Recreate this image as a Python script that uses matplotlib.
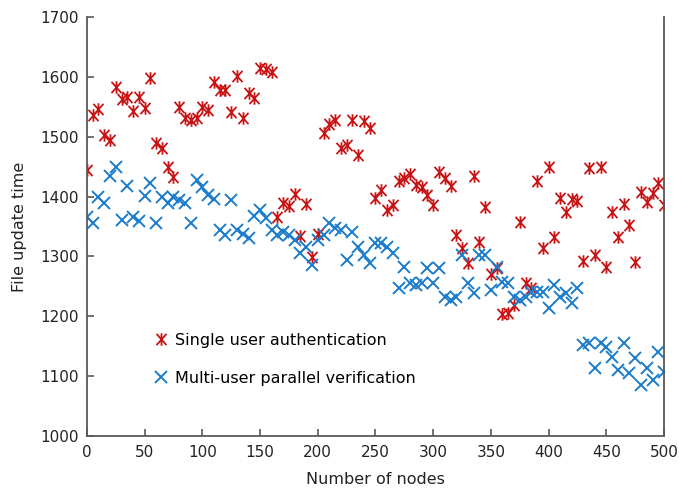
import matplotlib
matplotlib.use("Agg")
import matplotlib.pyplot as plt
from matplotlib.path import Path
import numpy as np

# datos
nodes = list(range(0, 501, 5))

single_auth = [
    1445, 1536, 1546, 1503, 1495, 1582, 1563, 1566, 1543, 1566,
    1548, 1598, 1490, 1481, 1450, 1433, 1549, 1531, 1528, 1531,
    1549, 1545, 1592, 1578, 1577, 1541, 1601, 1531, 1573, 1565,
    1615, 1613, 1608, 1366, 1389, 1384, 1404, 1334, 1387, 1299,
    1338, 1506, 1521, 1528, 1481, 1486, 1528, 1470, 1526, 1515,
    1398, 1411, 1377, 1386, 1426, 1431, 1438, 1420, 1416, 1403,
    1386, 1441, 1431, 1418, 1336, 1314, 1289, 1435, 1324, 1383,
    1271, 1281, 1204, 1206, 1219, 1358, 1256, 1248, 1426, 1314,
    1450, 1333, 1398, 1374, 1396, 1393, 1292, 1447, 1303, 1450,
    1283, 1374, 1333, 1388, 1353, 1291, 1408, 1391, 1406, 1423,
    1386,
]

multi_verif = [
    1366, 1356, 1400, 1390, 1435, 1450, 1361, 1418, 1366, 1360,
    1401, 1423, 1356, 1400, 1390, 1400, 1395, 1390, 1356, 1428,
    1416, 1403, 1396, 1344, 1336, 1395, 1344, 1338, 1331, 1368,
    1378, 1364, 1344, 1336, 1341, 1336, 1328, 1306, 1315, 1286,
    1328, 1336, 1356, 1348, 1344, 1294, 1341, 1316, 1303, 1289,
    1323, 1323, 1316, 1306, 1248, 1283, 1256, 1253, 1256, 1281,
    1256, 1281, 1232, 1227, 1232, 1303, 1256, 1239, 1303, 1303,
    1244, 1283, 1258, 1256, 1232, 1227, 1232, 1241, 1241, 1241,
    1214, 1253, 1232, 1239, 1222, 1248, 1152, 1155, 1114, 1155,
    1149, 1132, 1111, 1156, 1106, 1131, 1086, 1114, 1094, 1141,
    1107,
]

# marcador asterisco: x con linea vertical
star = Path([(0, -1), (0, 1), (-0.8, -0.9), (0.8, 0.9), (-0.8, 0.9), (0.8, -0.9)],
            [Path.MOVETO, Path.LINETO, Path.MOVETO, Path.LINETO, Path.MOVETO, Path.LINETO])

red = '#C81414'
blue = '#1B7CCB'
gris = '#595959'

fig = plt.figure(figsize=(6.79, 4.94), dpi=100)
ax = fig.add_axes([0.128, 0.117, 0.85, 0.849])

ax.plot(nodes, single_auth, linestyle='none', marker=star, markersize=9,
        markeredgewidth=1.3, color=red, label='Single user authentication')
ax.plot(nodes, multi_verif, linestyle='none', marker='x', markersize=9,
        markeredgewidth=1.4, color=blue, label='Multi-user parallel verification')

ax.set_xlim(0, 500)
ax.set_ylim(1000, 1700)
ax.set_xticks(np.arange(0, 501, 50))
ax.set_yticks(np.arange(1000, 1701, 100))

ax.spines['top'].set_visible(False)
for s in ['left', 'bottom', 'right']:
    ax.spines[s].set_color(gris)
    ax.spines[s].set_linewidth(1.3)
ax.tick_params(direction='in', length=5, width=1.2, color=gris,
               labelsize=11, labelcolor='#222222', pad=6)
ax.tick_params(axis='y', right=False)

ax.set_xlabel('Number of nodes', fontsize=11.5, color='#222222', labelpad=9)
ax.set_ylabel('File update time', fontsize=11.5, color='#222222', labelpad=9)

ax.legend(loc='lower left', bbox_to_anchor=(0.095, 0.105), frameon=False,
          fontsize=11.5, handletextpad=0.1, handlelength=1.6,
          labelspacing=1.45, borderaxespad=0)

fig.savefig('out.png', dpi=100)
